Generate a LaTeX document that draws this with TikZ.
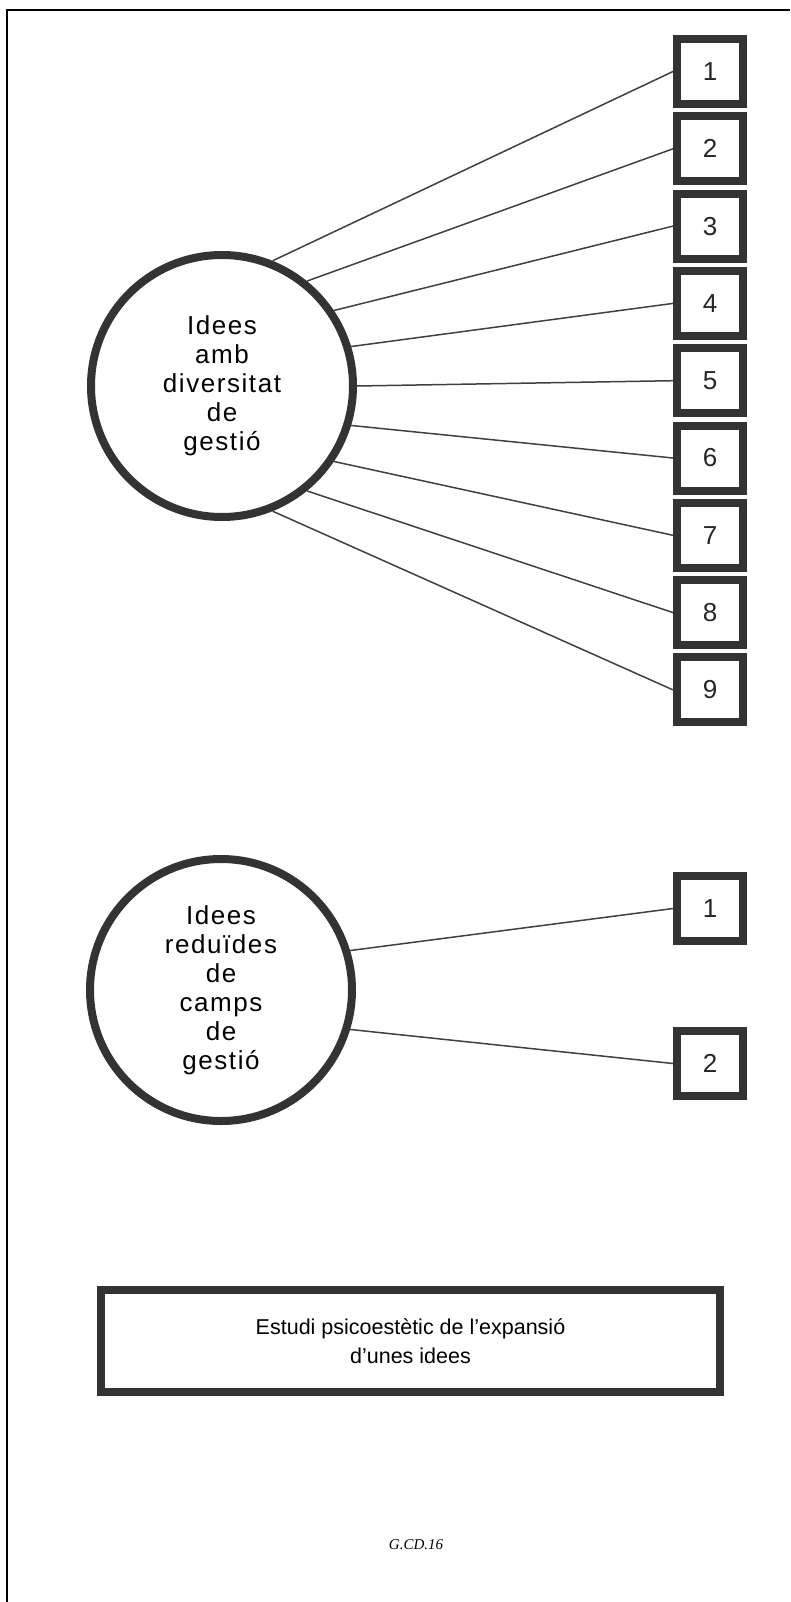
\documentclass[tikz,border=0pt]{standalone}
\usepackage{fontspec}
\setmainfont{Liberation Sans}
\newfontfamily\circfont[LetterSpace=6]{Liberation Sans}
\newfontfamily\tagfont{Liberation Serif}
\usetikzlibrary{positioning}
\tikzset{
  bubble/.style={circle, draw=black!80, line width=8pt, minimum size=262pt,
    inner sep=0pt, align=center, font=\circfont\fontsize{26}{29}\selectfont},
  numbox/.style={draw=black!80, line width=8pt, minimum width=66pt,
    minimum height=65pt, inner sep=0pt, text=black!85,
    font=\fontsize{26}{26}\selectfont},
  spoke/.style={black!75, line width=1.5pt}
}
\begin{document}
\begin{tikzpicture}[x=1pt, y=-1pt]
    \useasboundingbox (0,0) rectangle (790,1602);
    % page frame (top and left only)
    \draw[line width=2pt] (7,1602) -- (7,10) -- (790,10);

    % Ideas with many fields
    \node[bubble] (idees) at (222,386) {Idees\\amb\\diversitat\\de\\gestió};
    \node[numbox] (n1) at (710,71.5) {1};
    \foreach \i [remember=\i as \j (initially 1)] in {2,...,9}
      \node[numbox, below=4.3pt of n\j] (n\i) {\i};
    \foreach \i/\a in {1/68,2/51,3/34,4/17,5/0,6/-17,7/-34,8/-51,9/-68}
      \draw[spoke] (idees.\a) -- (n\i.west);

    % Reduced ideas
    \node[bubble] (reduides) at (221,990) {Idees\\reduïdes\\de\\camps\\de\\gestió};
    \node[numbox] (m1) at (710,908.5) {1};
    \node[numbox] (m2) at (710,1063.5) {2};
    \draw[spoke] (reduides.17) -- (m1.west);
    \draw[spoke] (reduides.-17) -- (m2.west);

    % Title box
    \node[draw=black!80, line width=8pt, minimum width=619pt, minimum height=102pt,
      align=center, font=\fontsize{21.5}{29}\selectfont] (titol) at (410.5,1341)
      {Estudi psicoestètic de l’expansió\\d’unes idees};

    \node[font=\tagfont\itshape\fontsize{15}{15}\selectfont] (tag) at (416,1545) {G.CD.16};
  \end{tikzpicture}
\end{document}
